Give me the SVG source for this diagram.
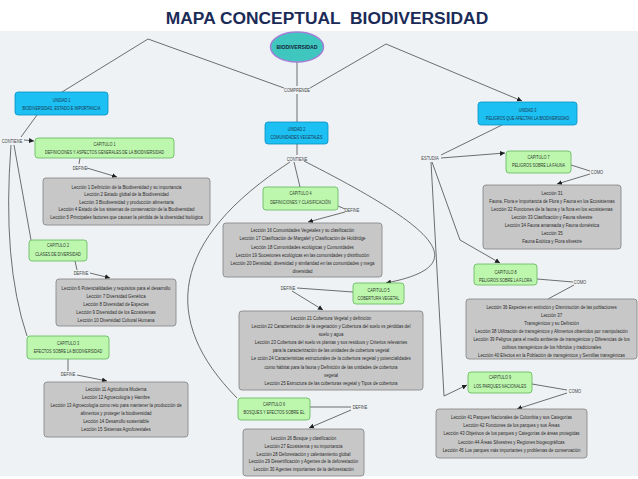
<svg xmlns="http://www.w3.org/2000/svg" width="638" height="479" viewBox="0 0 638 479">
<style>
.unit{fill:#1cc0f2;stroke:#0b8fc4;stroke-width:0.8}
.cap{fill:#bdf6ad;stroke:#5fb65a;stroke-width:0.8}
.les{fill:#c7c7c7;stroke:#8a8a8a;stroke-width:0.9}
.t{font-family:"Liberation Sans",Arial,sans-serif;text-anchor:middle}
.ut{font-size:5px;fill:#1b3450}
.ct{font-size:5px;fill:#2e3a2e}
.lt{font-size:5.6px;fill:#2a2a2a}
.lab{font-size:5px;fill:#444}
.con{fill:none;stroke:#555;stroke-width:0.85}
.arr{marker-end:url(#ah)}
</style>
<defs>
<marker id="ah" markerUnits="userSpaceOnUse" markerWidth="6" markerHeight="6" refX="5" refY="3" orient="auto">
<path d="M0,0.5 L5,3 L0,5.5 Z" fill="#1e1e1e"/>
</marker>
</defs>
<rect x="0" y="0" width="638" height="479" fill="#ffffff"/>
<rect x="0" y="31" width="638" height="445" fill="#eef2f5"/>
<text x="327" y="24" xml:space="preserve" style="font-family:'Liberation Sans',Arial,sans-serif;font-weight:bold;font-size:17.4px;fill:#1b2b57;text-anchor:middle">MAPA CONCEPTUAL  BIODIVERSIDAD</text>

<g id="connectors">
<path class="con" d="M297,62 L297,86"/>
<path class="con" d="M284,88 L148,39 L62,92"/>
<path class="con arr" d="M310,88 L386,44 L522,101"/>
<path class="con" d="M297,94 L297,122"/>
<path class="con" d="M37,115 L21,137"/>
<path class="con arr" d="M24,140 L34,141"/>
<path class="con" d="M14,145 L31,240"/>
<path class="con" d="M11,145 Q2,262 27,336"/>
<path class="con" d="M80,158 L79,164"/>
<path class="con arr" d="M87,168 L117,177"/>
<path class="con" d="M75,261 L77,270"/>
<path class="con arr" d="M90,273 L110,278"/>
<path class="con" d="M68,359 L68,371"/>
<path class="con arr" d="M77,375 L107,381"/>
<path class="con" d="M297,144 L297,155"/>
<path class="con" d="M294,162 L300,187"/>
<path class="con" d="M290,162 C170,240 160,320 237,398"/>
<path class="con arr" d="M304,161 C430,225 480,265 386,283"/>
<path class="con" d="M338,206 L345,209"/>
<path class="con arr" d="M345,212 L308,222"/>
<path class="con" d="M353,292 L297,288"/>
<path class="con arr" d="M292,291 L323,310"/>
<path class="con" d="M310,407 L351,407"/>
<path class="con arr" d="M351,410 L309,428"/>
<path class="con" d="M502,125 L441,155"/>
<path class="con arr" d="M441,158 L505,153"/>
<path class="con arr" d="M432,162 L460,240 L500,263"/>
<path class="con arr" d="M431,162 L444,396 L467,385"/>
<path class="con" d="M571,165 L590,171"/>
<path class="con arr" d="M590,174 L557,184"/>
<path class="con" d="M537,279 L573,282"/>
<path class="con" d="M574,285 L548,299"/>
<path class="con" d="M532,384 L567,390"/>
<path class="con arr" d="M567,393 L517,409"/>
</g>

<g id="labels" class="t lab">
<text transform="translate(297 92) scale(0.8 1)">COMPRENDE</text>
<text transform="translate(12 143) scale(0.8 1)">CONTIENE</text>
<text transform="translate(80 170) scale(0.8 1)">DEFINE</text>
<text transform="translate(81 275) scale(0.8 1)">DEFINE</text>
<text transform="translate(68 376) scale(0.8 1)">DEFINE</text>
<text transform="translate(297 161) scale(0.8 1)">CONTIENE</text>
<text transform="translate(352 212) scale(0.8 1)">DEFINE</text>
<text transform="translate(288 290) scale(0.8 1)">DEFINE</text>
<text transform="translate(360 409) scale(0.8 1)">DEFINE</text>
<text transform="translate(430 160) scale(0.8 1)">ESTUDIA</text>
<text transform="translate(597 174) scale(0.8 1)">COMO</text>
<text transform="translate(580 284) scale(0.8 1)">COMO</text>
<text transform="translate(575 393) scale(0.8 1)">COMO</text>
</g>

<g id="biodiversidad">
<ellipse cx="297" cy="47" rx="26.5" ry="15" fill="#3fc6bf" stroke="#a27fd8" stroke-width="1.5"/>
<text x="297" y="49" style="font-family:'Liberation Sans',Arial,sans-serif;font-weight:bold;font-size:5.2px;fill:#14243a;text-anchor:middle">BIODIVERSIDAD</text>
</g>

<g id="unidad1">
<rect class="unit" x="15" y="92" width="93" height="23" rx="3"/>
<g class="t ut" transform="translate(61.5 0) scale(0.76 1)">
<text y="102">UNIDAD 1</text>
<text y="110">BIODIVERSIDAD, ESTADO E IMPORTANCIA</text>
</g>
</g>
<g id="unidad2">
<rect class="unit" x="265" y="122" width="63" height="22" rx="3"/>
<g class="t ut" transform="translate(296.5 0) scale(0.76 1)">
<text y="131.5">UNIDAD 2</text>
<text y="139.5">COMUNIDADES VEGETALES</text>
</g>
</g>
<g id="unidad3">
<rect class="unit" x="478" y="102" width="99" height="23" rx="3"/>
<g class="t ut" transform="translate(527.5 0) scale(0.76 1)">
<text y="112">UNIDAD 3</text>
<text y="120">PELIGROS QUE AFECTAN LA BIODIVERSIDAD</text>
</g>
</g>

<g id="cap1">
<rect class="cap" x="35" y="138" width="139" height="20" rx="3"/>
<g class="t ct" transform="translate(104.5 0) scale(0.76 1)">
<text y="146">CAPITULO 1</text>
<text y="154.5">DEFINICIONES Y ASPECTOS GENERALES DE LA BIODIVERSIDAD</text>
</g>
</g>
<g id="cap2">
<rect class="cap" x="29" y="240" width="58" height="21" rx="3"/>
<g class="t ct" transform="translate(58 0) scale(0.76 1)">
<text y="247.5">CAPITULO 2</text>
<text y="256">CLASES DE DIVERSIDAD</text>
</g>
</g>
<g id="cap3">
<rect class="cap" x="27" y="336" width="82" height="23" rx="3"/>
<g class="t ct" transform="translate(68 0) scale(0.76 1)">
<text y="345">CAPITULO 3</text>
<text y="353.5">EFECTOS SOBRE LA BIODIVERSIDAD</text>
</g>
</g>
<g id="cap4">
<rect class="cap" x="263" y="187" width="75" height="23" rx="3"/>
<g class="t ct" transform="translate(300.5 0) scale(0.76 1)">
<text y="195.5">CAPITULO 4</text>
<text y="204">DEFINICIONES Y CLASIFICACIÓN</text>
</g>
</g>
<g id="cap5">
<rect class="cap" x="353" y="283" width="51" height="21" rx="3"/>
<g class="t ct" transform="translate(378.5 0) scale(0.76 1)">
<text y="292">CAPITULO 5</text>
<text y="300">COBERTURA VEGETAL</text>
</g>
</g>
<g id="cap6">
<rect class="cap" x="238" y="398" width="72" height="22" rx="3"/>
<g class="t ct" transform="translate(274 0) scale(0.76 1)">
<text y="406">CAPITULO 6</text>
<text y="414">BOSQUES Y EFECTOS SOBRE EL</text>
</g>
</g>
<g id="cap7">
<rect class="cap" x="506" y="151" width="65" height="22" rx="3"/>
<g class="t ct" transform="translate(538.5 0) scale(0.76 1)">
<text y="159">CAPITULO 7</text>
<text y="167.5">PELIGROS SOBRE LA FAUNA</text>
</g>
</g>
<g id="cap8">
<rect class="cap" x="474" y="264" width="63" height="21" rx="3"/>
<g class="t ct" transform="translate(505.5 0) scale(0.76 1)">
<text y="274">CAPITULO 8</text>
<text y="282">PELIGROS SOBRE LA FLORA</text>
</g>
</g>
<g id="cap9">
<rect class="cap" x="468" y="372" width="64" height="21" rx="3"/>
<g class="t ct" transform="translate(500 0) scale(0.76 1)">
<text y="379.5">CAPITULO 9</text>
<text y="388">LOS PARQUES NACIONALES</text>
</g>
</g>

<g id="lecciones1">
<rect class="les" x="43" y="178" width="167" height="47" rx="3"/>
<g class="t lt" transform="translate(126.5 0) scale(0.78 1)">
<text y="189">Lección 1 Definición de la Biodiversidad y su importancia</text>
<text y="196.5">Lección 2 Estado global de la Biodiversidad</text>
<text y="204">Lección 3 Biodiversidad y producción alimentaria</text>
<text y="211.5">Lección 4 Estado de los sistemas de conservación de la Biodiversidad</text>
<text y="219">Lección 5 Principales factores que causan la pérdida de la diversidad biológica</text>
</g>
</g>
<g id="lecciones2">
<rect class="les" x="56" y="279" width="120" height="47" rx="3"/>
<g class="t lt" transform="translate(116 0) scale(0.78 1)">
<text y="290">Lección 6 Potencialidades y requisitos para el desarrollo</text>
<text y="298">Lección 7 Diversidad Genética</text>
<text y="306">Lección 8 Diversidad de Especies</text>
<text y="314">Lección 9 Diversidad de los Ecosistemas</text>
<text y="322">Lección 10 Diversidad Cultural Humana</text>
</g>
</g>
<g id="lecciones3">
<rect class="les" x="44" y="382" width="144" height="55" rx="3"/>
<g class="t lt" transform="translate(116 0) scale(0.78 1)">
<text y="391">Lección 11 Agricultura Moderna</text>
<text y="399">Lección 12 Agroecología y Hambre</text>
<text y="407">Lección 13 Agroecología como reto para mantener la producción de</text>
<text y="415">alimentos y proteger la biodiversidad</text>
<text y="423">Lección 14 Desarrollo sustentable</text>
<text y="431">Lección 15 Sistemas Agroforestales</text>
</g>
</g>
<g id="lecciones4">
<rect class="les" x="223" y="223" width="159" height="54" rx="3"/>
<g class="t lt" transform="translate(302.5 0) scale(0.78 1)">
<text y="232">Lección 16 Comunidades Vegetales y su clasificación</text>
<text y="240.3">Lección 17 Clasificación de Margalef y Clasificación de Holdridge</text>
<text y="248.6">Lección 18 Comunidades ecológicas y Comunidades</text>
<text y="256.9">Lección 19 Sucesiones ecológicas en las comunidades y distribución</text>
<text y="265.2">Lección 20 Densidad, diversidad y similaridad en las comunidades y mega</text>
<text y="273.5">diversidad</text>
</g>
</g>
<g id="lecciones5">
<rect class="les" x="239" y="311" width="184" height="79" rx="3"/>
<g class="t lt" transform="translate(331 0) scale(0.78 1)">
<text y="320">Lección 21 Cobertura Vegetal y definición</text>
<text y="328.1">Lección 22 Caracterización de la vegetación y Cobertura del suelo vs pérdidas del</text>
<text y="336.2">suelo y agua</text>
<text y="344.3">Lección 23 Cobertura del suelo vs plantas y sus residuos y Criterios relevantes</text>
<text y="352.4">para la caracterización de las unidades de cobertura vegetal</text>
<text y="360.5">Le cción 24 Características estructurales de la cobertura vegetal y potencialidades</text>
<text y="368.6">como hábitat para la fauna y Definición de las unidades de cobertura</text>
<text y="376.7">vegetal</text>
<text y="384.8">Lección 25 Estructura de las coberturas vegetal y Tipos de cobertura</text>
</g>
</g>
<g id="lecciones6">
<rect class="les" x="243" y="429" width="121" height="47" rx="3"/>
<g class="t lt" transform="translate(303.5 0) scale(0.78 1)">
<text y="440">Lección 26 Bosque y clasificación</text>
<text y="447.8">Lección 27 Ecosistema y su importancia</text>
<text y="455.6">Lección 28 Deforestación y calentamiento global</text>
<text y="463.4">Lección 29 Desertificación y Agentes de la deforestación</text>
<text y="471.2">Lección 30 Agentes importantes de la deforestación</text>
</g>
</g>
<g id="lecciones7">
<rect class="les" x="483" y="185" width="138" height="64" rx="3"/>
<g class="t lt" transform="translate(552 0) scale(0.78 1)">
<text y="195">Lección 31</text>
<text y="203">Fauna, Flora e Importancia de Flora y Fauna en los Ecosistemas</text>
<text y="211">Lección 32 Funciones de la fauna y la flora en los ecosistemas</text>
<text y="219">Lección 33 Clasificación y Fauna silvestre</text>
<text y="227">Lección 34 Fauna amansada y Fauna doméstica</text>
<text y="235">Lección 35</text>
<text y="243">Fauna Exótica y Flora silvestre</text>
</g>
</g>
<g id="lecciones8">
<rect class="les" x="466" y="299" width="171" height="60" rx="3"/>
<g class="t lt" transform="translate(551.5 0) scale(0.78 1)">
<text y="309">Lección 36 Especies en extinción y Disminución de las poblaciones</text>
<text y="317">Lección 37</text>
<text y="325">Transgénicos y su Definción</text>
<text y="333">Lección 38 Utilización de transgénicos y Alimentos obtenidos por manipulación</text>
<text y="341">Lección 39 Peligros para el medio ambiente de transgénicos y Diferencias de los</text>
<text y="349">cultivos transgénicos de los híbridos y tradicionales</text>
<text y="357">Lección 40 Efectos en la Población de transgénicos y Semillas transgénicas</text>
</g>
</g>
<g id="lecciones9">
<rect class="les" x="436" y="409" width="151" height="49" rx="3"/>
<g class="t lt" transform="translate(511.5 0) scale(0.78 1)">
<text y="419">Lección 41 Parques Nacionales de Colombia y sus Categorías</text>
<text y="427.2">Lección 42 Funciones de los parques y sus Áreas</text>
<text y="435.4">Lección 43 Objetivos de los parques y Categorías de áreas protegidas</text>
<text y="443.6">Lección 44 Áreas Silvestres y Regiones biogeográficas</text>
<text y="451.8">Lección 45 Los parques más importantes y problemas de conservación</text>
</g>
</g>
</svg>
